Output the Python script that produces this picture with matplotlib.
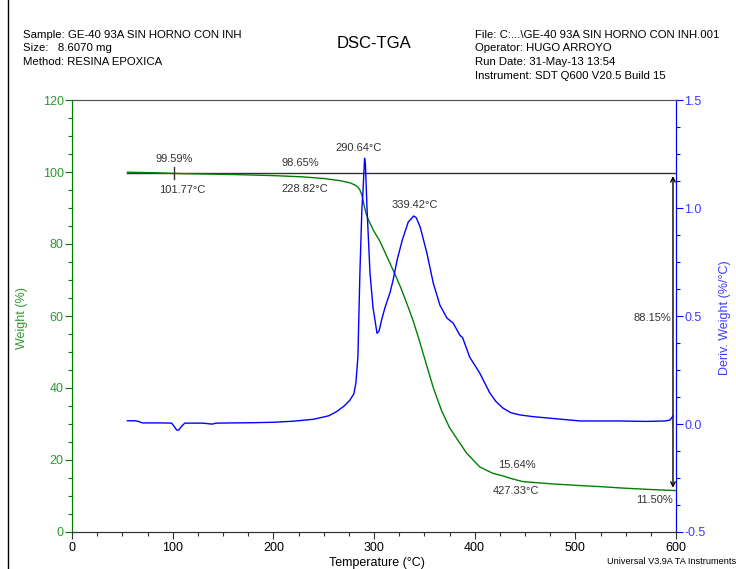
import matplotlib
matplotlib.use("Agg")
import matplotlib.pyplot as plt
from matplotlib.ticker import MultipleLocator
from matplotlib.lines import Line2D

plt.rcParams['font.family'] = ['Liberation Sans', 'DejaVu Sans']
plt.rcParams['axes.unicode_minus'] = False

# Weight loss curve (°C, %)
temp_w = [55, 80, 101.77, 130, 160, 200, 228.82, 250, 266, 276, 281, 284, 286, 288,
          290, 292, 294, 296, 300, 306, 314, 321, 327, 333, 339, 345, 352, 359, 367,
          375, 384, 392, 405, 418, 427.33, 438, 448, 475, 498, 525, 547, 575, 600]
weight = [99.95, 99.8, 99.59, 99.45, 99.3, 99.0, 98.65, 98.2, 97.6, 97.0, 96.4, 95.8,
          95.0, 93.6, 91.0, 88.6, 87.0, 85.8, 83.5, 80.7, 75.8, 71.5, 67.6, 63.2,
          58.6, 53.2, 46.6, 40.0, 33.8, 29.0, 25.2, 21.9, 18.1, 16.3, 15.64, 14.7,
          14.0, 13.4, 13.0, 12.6, 12.2, 11.8, 11.5]

# Derivative weight curve (°C, %/°C)
temp_d = [55, 62, 66, 70, 80, 90, 99, 102, 104, 106, 109, 112, 130, 138, 140, 143,
          160, 180, 200, 220, 240, 255, 263, 270, 276, 280, 282, 284, 286, 288, 289,
          290.64, 291.5, 293, 296, 299, 301, 303, 305, 308, 311, 316, 319, 323, 328,
          334, 339.42, 342, 346, 352.6, 359, 365.5, 372.5, 378.5, 385.5, 388, 395,
          405, 415, 421, 428, 436, 445, 458, 472, 505, 544, 570, 589, 594, 597]
deriv = [0.015, 0.015, 0.012, 0.005, 0.005, 0.005, 0.004, -0.015, -0.028, -0.028,
         -0.01, 0.004, 0.004, 0.0, 0.0, 0.004, 0.005, 0.006, 0.008, 0.013, 0.022,
         0.038, 0.058, 0.082, 0.11, 0.14, 0.19, 0.31, 0.70, 1.00, 1.07, 1.23, 1.20,
         1.005, 0.70, 0.54, 0.48, 0.42, 0.43, 0.49, 0.54, 0.61, 0.667, 0.76, 0.85,
         0.935, 0.963, 0.955, 0.91, 0.79, 0.65, 0.55, 0.49, 0.468, 0.41, 0.40, 0.31,
         0.236, 0.144, 0.105, 0.074, 0.052, 0.042, 0.034, 0.028, 0.014, 0.014, 0.012,
         0.014, 0.018, 0.037]

GREEN = '#008000'
GREEN_TXT = '#2e9a2e'
BLUE = '#0000ff'
BLUE_TXT = '#3c3cff'

fig = plt.figure(figsize=(7.36, 5.69), dpi=100)
ax = fig.add_axes([72 / 736, 1 - 532 / 569, (676 - 72) / 736, (532 - 100) / 569])
ax2 = ax.twinx()

ax.plot(temp_w, weight, color=GREEN, lw=1.0, zorder=3)
ax2.plot(temp_d, deriv, color=BLUE, lw=1.0, zorder=3)

ax.set_xlim(0, 600)
ax.set_ylim(0, 120)
ax2.set_ylim(-0.5, 1.5)

ax.xaxis.set_major_locator(MultipleLocator(100))
ax.xaxis.set_minor_locator(MultipleLocator(25))
ax.yaxis.set_major_locator(MultipleLocator(20))
ax.yaxis.set_minor_locator(MultipleLocator(5))
ax2.yaxis.set_major_locator(MultipleLocator(0.5))
ax2.yaxis.set_minor_locator(MultipleLocator(0.125))

ax.tick_params(axis='x', which='major', length=5, width=0.8, labelsize=9, pad=2, color='#333333')
ax.tick_params(axis='x', which='minor', length=3, width=0.8, color='#333333')
ax.tick_params(axis='y', which='major', length=5, width=0.8, labelsize=9, colors=GREEN, labelcolor=GREEN_TXT, pad=1)
ax.tick_params(axis='y', which='minor', length=3, width=0.8, colors=GREEN)
ax2.tick_params(axis='y', which='major', length=5, width=0.8, labelsize=9, colors=BLUE, labelcolor=BLUE_TXT, pad=1)
ax2.tick_params(axis='y', which='minor', length=3, width=0.8, colors=BLUE)

for a in (ax, ax2):
    a.spines['left'].set_color(GREEN)
    a.spines['right'].set_color(BLUE)
    a.spines['top'].set_color('#555555')
    a.spines['bottom'].set_color('#333333')

# Axis titles placed in figure coordinates
fig.text(22 / 736, 1 - 318 / 569, 'Weight (%)', color=GREEN_TXT, fontsize=9,
         rotation=90, ha='center', va='center')
fig.text(725 / 736, 1 - 318 / 569, 'Deriv. Weight (%/°C)', color=BLUE_TXT, fontsize=9,
         rotation=90, ha='center', va='center')
fig.text(377 / 736, 1 - 563 / 569, 'Temperature (°C)', fontsize=9, ha='center', va='center')

# Step analysis: total weight change
ax.plot([55, 600], [99.65, 99.65], color='#333333', lw=1.0, zorder=2)
ax.annotate('', xy=(597, 99.65), xytext=(597, 11.5),
            arrowprops=dict(arrowstyle='<->', color='black', lw=1.0, mutation_scale=8))
ax.text(595, 59.5, '88.15%', ha='right', va='center', fontsize=8, color='#333333')
ax.text(597, 8.8, '11.50%', ha='right', va='center', fontsize=8, color='#333333')

# Point markers
ax.plot([101.77, 101.77], [98.0, 101.3], color='#333333', lw=1.0, zorder=4)
ax.text(101.77, 102.3, '99.59%', ha='center', va='bottom', fontsize=8, color='#333333')
ax.text(87, 96.5, '101.77°C', ha='left', va='top', fontsize=8, color='#333333')
ax.text(208, 101.0, '98.65%', ha='left', va='bottom', fontsize=8, color='#333333')
ax.text(208, 96.7, '228.82°C', ha='left', va='top', fontsize=8, color='#333333')
ax.text(423, 17.2, '15.64%', ha='left', va='bottom', fontsize=8, color='#333333')
ax.text(418, 12.8, '427.33°C', ha='left', va='top', fontsize=8, color='#333333')

# Peak labels
ax2.text(285, 1.255, '290.64°C', ha='center', va='bottom', fontsize=8, color='#333333')
ax2.text(340.5, 0.99, '339.42°C', ha='center', va='bottom', fontsize=8, color='#333333')

# Header block
fig.text(23 / 736, 1 - 35 / 569, 'Sample: GE-40 93A SIN HORNO CON INH', fontsize=8.2, va='center')
fig.text(23 / 736, 1 - 48 / 569, 'Size:   8.6070 mg', fontsize=8.2, va='center')
fig.text(23 / 736, 1 - 62 / 569, 'Method: RESINA EPOXICA', fontsize=8.2, va='center')
fig.text(374 / 736, 1 - 43 / 569, 'DSC-TGA', fontsize=12, ha='center', va='center')
fig.text(475 / 736, 1 - 35 / 569, 'File: C:...\\GE-40 93A SIN HORNO CON INH.001', fontsize=8.2, va='center')
fig.text(475 / 736, 1 - 48 / 569, 'Operator: HUGO ARROYO', fontsize=8.2, va='center')
fig.text(475 / 736, 1 - 62 / 569, 'Run Date: 31-May-13 13:54', fontsize=8.2, va='center')
fig.text(475 / 736, 1 - 76 / 569, 'Instrument: SDT Q600 V20.5 Build 15', fontsize=8.2, va='center')
fig.text(607 / 736, 1 - 562 / 569, 'Universal V3.9A TA Instruments', fontsize=6.6, va='center')

# Page frame line
fig.add_artist(Line2D([8 / 736, 8 / 736], [0, 1], color='black', lw=1.0, transform=fig.transFigure))

fig.savefig('out.png', dpi=100)
